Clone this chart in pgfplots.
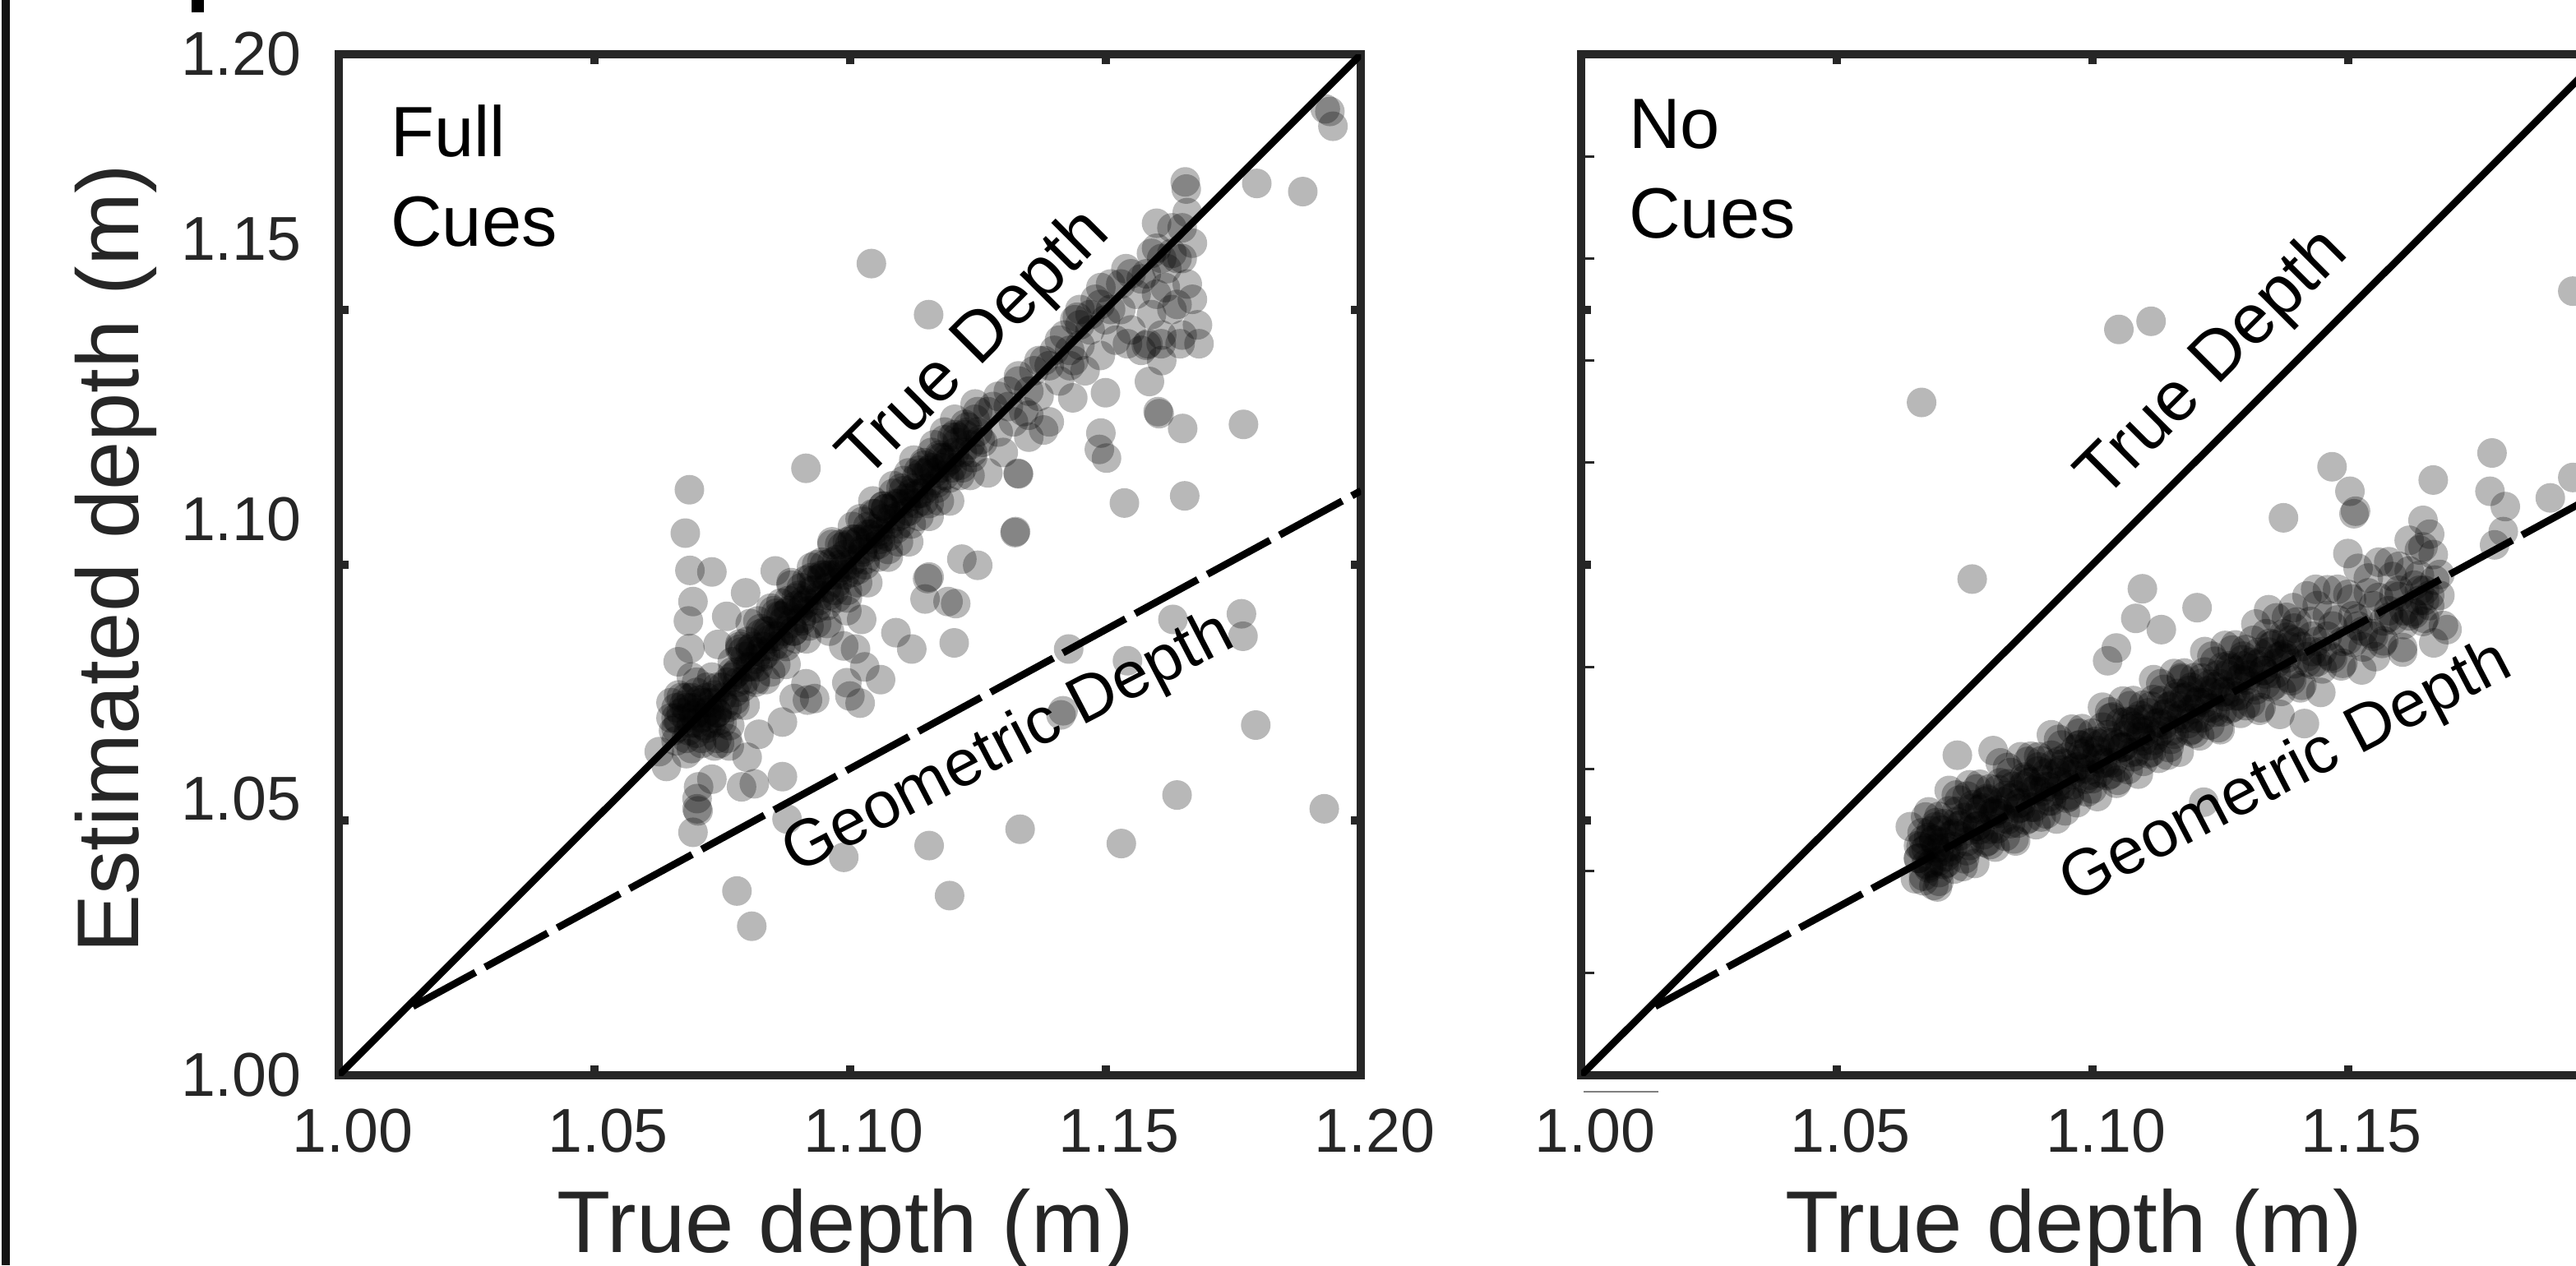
\documentclass[border=0pt]{standalone}
\usepackage{pgfplots}
\pgfplotsset{compat=1.18}
\usepackage{fontspec}
\setmainfont{Liberation Sans}
\pgfplotsset{
  scatdots/.style={only marks, mark=*, mark size=2.7pt, draw opacity=0, mark options={fill=black, draw opacity=0, fill opacity=0.28}},
  panelstyle/.style={
    scale only axis, width=186.5pt, height=186.3pt,
    xmin=1, xmax=1.2, ymin=1, ymax=1.2,
    axis line style={line width=1.5pt, black!85},
    tick align=inside, xtick pos=both, ytick pos=both,
    major tick length=1.8pt,
    tick style={line width=1.5pt, black!85},
    xtick={1,1.05,1.1,1.15,1.2},
    ytick={1.05,1.1,1.15}, yticklabels={},
    x tick label style={font=\fontsize{11.3}{13}\selectfont, text=black!85, inner sep=0pt, anchor=north, yshift=-6pt, xshift=2.5pt},
    y tick label style={font=\fontsize{11.3}{13}\selectfont, text=black!85, inner sep=0pt, anchor=east, xshift=-6.6pt},
    label style={font=\fontsize{16}{19}\selectfont, text=black!85},
  }
}
\begin{document}
\begin{tikzpicture}
\useasboundingbox (0pt,0pt) rectangle (469.95pt,230.85pt);
\fill[black!92] (0.3pt,0pt) rectangle (1.8pt,230.85pt);
\fill[black] (34.95pt,228.6pt) rectangle (37.2pt,230.85pt);
\draw[gray, line width=0.35pt] (288.9pt,31.65pt) -- (302.55pt,31.65pt);

% ---------------- Left panel: Full Cues ----------------
\begin{axis}[panelstyle, at={(61.8pt,34.65pt)}, anchor=south west,
  xticklabels={1.00,1.05,1.10,1.15,1.20},
  extra y ticks={1,1.0541,1.109,1.1638,1.2},
  extra y tick labels={1.00,1.05,1.10,1.15,1.20},
  extra y tick style={major tick length=0pt},
  ylabel={Estimated depth (m)},
  ylabel style={at={(axis description cs:-0.218,0.506)}, anchor=center},
  xlabel={True depth (m)},
  xlabel style={at={(axis description cs:0.4956,0)}, anchor=base, yshift=-32.25pt}]
% dense blob
\addplot[scatdots] coordinates {
(1.066,1.068) (1.067,1.071) (1.068,1.066) (1.068,1.074) (1.069,1.069) (1.069,1.072)
(1.070,1.067) (1.070,1.075) (1.071,1.070) (1.071,1.073) (1.072,1.068) (1.072,1.071)
(1.072,1.076) (1.073,1.069) (1.073,1.073) (1.074,1.066) (1.074,1.071) (1.075,1.074)
(1.075,1.069) (1.076,1.077) (1.070,1.071) (1.071,1.065) (1.068,1.070) (1.067,1.074)
(1.073,1.078) (1.069,1.064) (1.076,1.072) (1.074,1.076) (1.066,1.072) (1.072,1.074)
(1.0665,1.0695) (1.0675,1.0725) (1.0685,1.0675) (1.0695,1.0705) (1.0705,1.0735) (1.0715,1.0685)
(1.0725,1.0715) (1.0735,1.0745) (1.0745,1.0695) (1.0755,1.0725) (1.0680,1.0720) (1.0700,1.0690)
(1.0720,1.0730) (1.0740,1.0710) (1.0690,1.0740) (1.0710,1.0660) (1.0730,1.0700) (1.0660,1.0700)
(1.0750,1.0760) (1.0700,1.0770)
(1.065,1.070) (1.066,1.0655) (1.0665,1.0745) (1.0775,1.0735) (1.0765,1.0685) (1.0655,1.0675)
(1.0690,1.0780) (1.0745,1.0650) (1.0770,1.0780) (1.0680,1.0630) (1.0650,1.0730) (1.0760,1.0660)
};
% band along true depth
\addplot[scatdots] coordinates {
(1.077,1.081) (1.0775,1.075) (1.078,1.079) (1.0785,1.084) (1.079,1.076) (1.0795,1.082)
(1.080,1.085) (1.0805,1.080) (1.081,1.083) (1.0815,1.077) (1.082,1.089) (1.0825,1.083)
(1.083,1.082) (1.0835,1.087) (1.084,1.087) (1.0845,1.079) (1.085,1.091) (1.0855,1.086)
(1.086,1.086) (1.0865,1.090) (1.087,1.089) (1.0875,1.084) (1.088,1.093) (1.0885,1.096)
(1.089,1.087) (1.0895,1.092) (1.090,1.094) (1.0905,1.089) (1.091,1.092) (1.0915,1.097)
(1.092,1.088) (1.0925,1.095) (1.093,1.095) (1.0935,1.100) (1.094,1.093) (1.0945,1.098)
(1.095,1.100) (1.0955,1.092) (1.096,1.098) (1.0965,1.104) (1.097,1.095) (1.0975,1.101)
(1.098,1.104) (1.0985,1.099) (1.099,1.102) (1.0995,1.095) (1.100,1.100) (1.1005,1.105)
(1.101,1.105) (1.1015,1.099) (1.102,1.109) (1.1025,1.103) (1.103,1.100) (1.1035,1.106)
(1.104,1.106) (1.1045,1.110) (1.105,1.110) (1.1055,1.104) (1.106,1.106) (1.1065,1.109)
(1.107,1.111) (1.1075,1.103) (1.108,1.109) (1.1085,1.114) (1.109,1.107) (1.1095,1.112)
(1.110,1.115) (1.1105,1.110) (1.111,1.113) (1.1115,1.118) (1.112,1.108) (1.1125,1.115)
(1.113,1.117) (1.1135,1.114) (1.114,1.114) (1.1145,1.120) (1.115,1.118) (1.1155,1.112)
(1.116,1.122) (1.1165,1.118) (1.117,1.116) (1.1175,1.121) (1.118,1.121) (1.1185,1.126)
(1.119,1.120) (1.1195,1.117) (1.120,1.125) (1.1205,1.122)
(1.121,1.124) (1.122,1.119) (1.123,1.127) (1.124,1.121) (1.125,1.130) (1.126,1.124)
(1.127,1.118) (1.128,1.131) (1.129,1.126) (1.130,1.122) (1.131,1.134) (1.132,1.128)
(1.133,1.136) (1.134,1.130) (1.135,1.125) (1.136,1.138) (1.137,1.133) (1.138,1.140)
(1.139,1.128) (1.140,1.142) (1.141,1.136) (1.142,1.145) (1.143,1.139) (1.144,1.148)
(1.145,1.143) (1.145,1.150) (1.146,1.138) (1.147,1.146) (1.148,1.152) (1.149,1.141)
(1.150,1.148) (1.151,1.155) (1.152,1.144) (1.153,1.150) (1.154,1.158) (1.155,1.146)
(1.156,1.153) (1.157,1.142) (1.158,1.157) (1.159,1.149) (1.160,1.162) (1.160,1.153)
(1.161,1.145) (1.162,1.158) (1.163,1.166) (1.164,1.151) (1.165,1.160) (1.166,1.169)
(1.166,1.155) (1.167,1.163) (1.168,1.147) (1.161,1.140) (1.163,1.150) (1.167,1.152)
(1.165,1.145) (1.158,1.143)
};
% band core and edges
\addplot[scatdots] coordinates {
(1.077,1.079) (1.078,1.077) (1.079,1.083) (1.080,1.080) (1.081,1.084) (1.082,1.080) (1.083,1.084)
(1.084,1.086) (1.085,1.084) (1.086,1.090) (1.087,1.087) (1.088,1.091) (1.089,1.087) (1.090,1.091)
(1.091,1.093) (1.092,1.091) (1.093,1.097) (1.094,1.094) (1.095,1.098) (1.096,1.094) (1.097,1.098)
(1.098,1.100) (1.099,1.098) (1.100,1.104) (1.101,1.101) (1.102,1.105) (1.103,1.101) (1.104,1.105)
(1.105,1.107) (1.106,1.105) (1.107,1.111) (1.108,1.108) (1.109,1.112) (1.110,1.108) (1.111,1.112)
(1.112,1.114) (1.113,1.112) (1.114,1.118) (1.115,1.115) (1.116,1.119) (1.117,1.115) (1.118,1.119)
(1.119,1.121) (1.120,1.119) (1.121,1.125) (1.122,1.122) (1.123,1.126) (1.124,1.122) (1.125,1.126)
(1.0775,1.0785) (1.0785,1.0835) (1.0795,1.0775) (1.0805,1.0835) (1.0815,1.0815) (1.0825,1.0865) (1.0835,1.0825)
(1.0845,1.0855) (1.0855,1.0905) (1.0865,1.0845) (1.0875,1.0905) (1.0885,1.0885) (1.0895,1.0935) (1.0905,1.0895)
(1.0915,1.0925) (1.0925,1.0975) (1.0935,1.0915) (1.0945,1.0975) (1.0955,1.0955) (1.0965,1.1005) (1.0975,1.0965)
(1.0985,1.0995) (1.0995,1.1045) (1.1005,1.0985) (1.1015,1.1045) (1.1025,1.1025) (1.1035,1.1075) (1.1045,1.1035)
(1.1055,1.1065) (1.1065,1.1115) (1.1075,1.1055) (1.1085,1.1115) (1.1095,1.1095) (1.1105,1.1145) (1.1115,1.1105)
(1.1125,1.1135) (1.1135,1.1185) (1.1145,1.1125) (1.1155,1.1185) (1.1165,1.1165) (1.1175,1.1215) (1.1185,1.1175)
(1.1195,1.1205) (1.1205,1.1255) (1.1215,1.1195) (1.1225,1.1255) (1.1235,1.1235) (1.1245,1.1285) (1.1255,1.1245)
(1.127,1.130) (1.129,1.133) (1.131,1.131) (1.133,1.137) (1.135,1.134) (1.137,1.140) (1.139,1.139)
(1.141,1.144) (1.143,1.142) (1.145,1.147) (1.147,1.149) (1.149,1.151) (1.151,1.150) (1.153,1.155)
(1.155,1.157) (1.157,1.156) (1.159,1.161) (1.161,1.160) (1.163,1.161) (1.165,1.166) (1.1445,1.1485)
(1.1491,1.1543) (1.1438,1.140) (1.164,1.160) (1.1617,1.1543)
(1.0775,1.0725) (1.0795,1.0725) (1.0815,1.0775) (1.0835,1.0775) (1.0855,1.0805) (1.0875,1.0805)
(1.0895,1.0855) (1.0915,1.0855) (1.0935,1.0885) (1.0955,1.0885) (1.0975,1.0935) (1.0995,1.0935)
(1.1015,1.0965) (1.1035,1.0965) (1.1055,1.1015) (1.1075,1.1015) (1.1095,1.1045) (1.1115,1.1045)
(1.1135,1.1095) (1.1155,1.1095) (1.1175,1.1125) (1.1195,1.1125) (1.1215,1.1175) (1.1235,1.1175)
(1.0785,1.0845) (1.0805,1.0885) (1.0825,1.0875) (1.0845,1.0915) (1.0865,1.0925) (1.0885,1.0965)
(1.0905,1.0955) (1.0925,1.0995) (1.0945,1.1005) (1.0965,1.1045) (1.0985,1.1035) (1.1005,1.1075)
(1.1025,1.1085) (1.1045,1.1125) (1.1065,1.1115) (1.1085,1.1155) (1.1105,1.1165) (1.1125,1.1205)
(1.1145,1.1195) (1.1165,1.1235) (1.1185,1.1245) (1.1205,1.1285) (1.1225,1.1275) (1.1245,1.1315)
};
% scattered points
\addplot[scatdots] coordinates {
(1.1042,1.1590) (1.1154,1.1490) (1.0914,1.1189) (1.0686,1.1147) (1.0678,1.1062) (1.1329,1.1179) (1.1323,1.1063)
(1.1939,1.1888) (1.1930,1.1893) (1.1945,1.1859) (1.1796,1.1747) (1.1886,1.1731) (1.1656,1.1750) (1.1658,1.1736) (1.1600,1.1669)
(1.1609,1.1433) (1.1683,1.1433) (1.1646,1.1433) (1.1583,1.1433) (1.1543,1.1433)
(1.1586,1.1359) (1.1603,1.1300) (1.1605,1.1296) (1.1651,1.1267) (1.1770,1.1275) (1.1491,1.1258) (1.1488,1.1226) (1.1502,1.1209)
(1.1500,1.1337) (1.1436,1.1327) (1.1379,1.1264) (1.1330,1.1178) (1.1537,1.1121) (1.1655,1.1135) (1.1324,1.1065) (1.1350,1.1293)
(1.0687,1.0989) (1.0730,1.0986) (1.0693,1.0928) (1.0684,1.0890) (1.0759,1.0899) (1.0796,1.0945) (1.0854,1.0988) (1.0687,1.0836) (1.0664,1.0810) (1.0742,1.0844)
(1.1219,1.1011) (1.1250,1.0999) (1.1155,1.0976) (1.1192,1.0928) (1.1207,1.0924) (1.1147,1.0933) (1.1090,1.0867) (1.1121,1.0835) (1.1204,1.0847) (1.1428,1.0835) (1.1417,1.0714)
(1.1011,1.0835) (1.1029,1.0800) (1.0994,1.0769) (1.1060,1.0775) (1.1020,1.0729) (1.1000,1.0743) (1.0917,1.0735) (1.0868,1.0692) (1.0799,1.0623) (1.0813,1.0571) (1.0788,1.0565) (1.0868,1.0585)
(1.0704,1.0565) (1.0730,1.0580) (1.0701,1.0542) (1.0701,1.0522) (1.0703,1.0518) (1.0693,1.0476) (1.0877,1.0502) (1.0988,1.0427) (1.1155,1.0450) (1.1333,1.0482) (1.1195,1.0352) (1.0779,1.0361) (1.0808,1.0292)
(1.0641,1.0605) (1.0627,1.0634) (1.0764,1.0645) (1.0735,1.0645) (1.0822,1.0668)
(1.1632,1.0893) (1.1766,1.0904) (1.1769,1.0860) (1.1543,1.0812) (1.1413,1.0706) (1.1794,1.0686) (1.1640,1.0549) (1.1928,1.0522) (1.1531,1.0454) (1.1152,1.0973)
(1.0914,1.0767) (1.0891,1.0738) (1.0960,1.0870) (1.0988,1.0841) (1.0994,1.0910) (1.1023,1.0893) (1.0931,1.0738)
};
\addplot[black, line width=1.3pt] coordinates {(1,1) (1.2,1.2)};
\addplot[black, line width=1.3pt, dash pattern=on 13pt off 2pt] coordinates {(1.0145,1.0135) (1.2,1.1145)};
\node[rotate=45, anchor=base, inner sep=0pt, font=\fontsize{12.8}{15}\selectfont] at (axis cs:1.1271,1.1404) {True Depth};
\node[rotate=27.5, anchor=base, inner sep=0pt, font=\fontsize{12}{14}\selectfont] at (axis cs:1.1327,1.0618) {Geometric Depth};
\node[anchor=north west, inner sep=0pt, align=left, font=\fontsize{13}{16.35}\selectfont, xshift=9.3pt, yshift=-9pt] at (rel axis cs:0,1) {Full\\Cues};
\end{axis}

% ---------------- Right panel: No Cues ----------------
\begin{axis}[panelstyle, at={(288.45pt,34.65pt)}, anchor=south west,
  xticklabels={1.00,1.05,1.10,1.15,{}},
  xlabel={True depth (m)},
  xlabel style={at={(axis description cs:0.482,0)}, anchor=base, yshift=-32.25pt}]
\addplot[scatdots] coordinates {
(1.066,1.0425) (1.0667,1.0475) (1.0654,1.0385)
(1.068,1.0466) (1.0687,1.0416) (1.0674,1.0506)
(1.070,1.0397) (1.0707,1.0457) (1.0694,1.0487)
(1.072,1.0518) (1.0727,1.0448) (1.0714,1.0428)
(1.074,1.0489) (1.0747,1.0409) (1.0734,1.0549)
(1.076,1.0480) (1.0767,1.0530) (1.0754,1.0440)
(1.078,1.0521) (1.0787,1.0471) (1.0774,1.0561)
(1.080,1.0452) (1.0807,1.0512) (1.0794,1.0542)
(1.082,1.0573) (1.0827,1.0503) (1.0814,1.0483)
(1.084,1.0543) (1.0847,1.0463) (1.0834,1.0603)
(1.086,1.0534) (1.0867,1.0584) (1.0854,1.0494)
(1.088,1.0575) (1.0887,1.0525) (1.0874,1.0615)
(1.090,1.0506) (1.0907,1.0566) (1.0894,1.0596)
(1.092,1.0627) (1.0927,1.0557) (1.0914,1.0537)
(1.094,1.0598) (1.0947,1.0518) (1.0934,1.0658)
(1.096,1.0589) (1.0967,1.0639) (1.0954,1.0549)
(1.098,1.0630) (1.0987,1.0580) (1.0974,1.0670)
(1.100,1.0561) (1.1007,1.0621) (1.0994,1.0651)
(1.102,1.0682) (1.1027,1.0612) (1.1014,1.0592)
(1.104,1.0652) (1.1047,1.0572) (1.1034,1.0712)
(1.106,1.0643) (1.1067,1.0693) (1.1054,1.0603)
(1.108,1.0684) (1.1087,1.0634) (1.1074,1.0724)
(1.110,1.0615) (1.1107,1.0675) (1.1094,1.0705)
(1.112,1.0736) (1.1127,1.0666) (1.1114,1.0646)
(1.114,1.0707) (1.1147,1.0627) (1.1134,1.0767)
(1.116,1.0698) (1.1167,1.0748) (1.1154,1.0658)
(1.118,1.0739) (1.1187,1.0689) (1.1174,1.0779)
(1.120,1.0670) (1.1207,1.0730) (1.1194,1.0760)
(1.122,1.0790) (1.1227,1.0720) (1.1214,1.0700)
(1.124,1.0761) (1.1247,1.0681) (1.1234,1.0821)
(1.126,1.0752) (1.1267,1.0802) (1.1254,1.0712)
(1.128,1.0793) (1.1287,1.0743) (1.1274,1.0833)
(1.130,1.0724) (1.1307,1.0784) (1.1294,1.0814)
(1.132,1.0805) (1.1327,1.0715) (1.134,1.0766) (1.1347,1.0846)
(1.136,1.0807) (1.1367,1.0707) (1.138,1.0858) (1.1387,1.0778)
(1.140,1.0849) (1.1407,1.0759) (1.142,1.0809) (1.1427,1.0889)
(1.144,1.0850) (1.1447,1.0750) (1.146,1.0901) (1.1467,1.0821)
(1.148,1.0892) (1.1487,1.0802) (1.150,1.0853) (1.1507,1.0933)
(1.152,1.0894) (1.1527,1.0794) (1.154,1.0945) (1.1547,1.0865)
(1.156,1.0936) (1.1567,1.0846) (1.158,1.0897) (1.1587,1.0977)
(1.160,1.0938) (1.1607,1.0838) (1.162,1.0988) (1.1627,1.0908)
(1.164,1.0979) (1.1647,1.0889) (1.166,1.0940) (1.1667,1.1020)
(1.168,1.0981) (1.1687,1.0881)
(1.143,1.083) (1.144,1.081) (1.165,1.095) (1.164,1.093) (1.166,1.092) (1.160,1.095) (1.162,1.090)
(1.067,1.044) (1.068,1.041) (1.069,1.046) (1.067,1.039) (1.070,1.042) (1.066,1.045)
};
% band core
\addplot[scatdots] coordinates {
(1.066,1.0425) (1.067,1.0461) (1.068,1.0406) (1.069,1.0462) (1.070,1.0437) (1.071,1.0493) (1.072,1.0438) (1.073,1.0474)
(1.074,1.0469) (1.075,1.0505) (1.076,1.0450) (1.077,1.0505) (1.078,1.0481) (1.079,1.0536) (1.080,1.0482) (1.081,1.0517)
(1.082,1.0513) (1.083,1.0548) (1.084,1.0493) (1.085,1.0549) (1.086,1.0524) (1.087,1.0580) (1.088,1.0525) (1.089,1.0561)
(1.090,1.0556) (1.091,1.0592) (1.092,1.0537) (1.093,1.0592) (1.094,1.0568) (1.095,1.0623) (1.096,1.0569) (1.097,1.0604)
(1.098,1.0600) (1.099,1.0635) (1.100,1.0581) (1.101,1.0636) (1.102,1.0611) (1.103,1.0667) (1.104,1.0612) (1.105,1.0648)
(1.106,1.0643) (1.107,1.0679) (1.108,1.0624) (1.109,1.0680) (1.110,1.0655) (1.111,1.0710) (1.112,1.0656) (1.113,1.0691)
(1.114,1.0687) (1.115,1.0722) (1.116,1.0668) (1.117,1.0723) (1.118,1.0699) (1.119,1.0754) (1.120,1.0699) (1.121,1.0735)
(1.122,1.0730) (1.123,1.0766) (1.124,1.0711) (1.125,1.0767) (1.126,1.0742) (1.127,1.0798) (1.128,1.0743) (1.129,1.0778)
(1.130,1.0774) (1.131,1.0809) (1.132,1.0755) (1.133,1.0810) (1.134,1.0786) (1.135,1.0841) (1.136,1.0787) (1.137,1.0822)
(1.138,1.0817) (1.139,1.0853)
(1.0665,1.0448) (1.0675,1.0414) (1.0685,1.0479) (1.0695,1.0445) (1.0705,1.0480) (1.0715,1.0416) (1.0725,1.0471) (1.0735,1.0517)
(1.0745,1.0492) (1.0755,1.0458) (1.0765,1.0523) (1.0775,1.0488) (1.0785,1.0524) (1.0795,1.0459) (1.0805,1.0515) (1.0815,1.0560)
(1.0825,1.0536) (1.0835,1.0501) (1.0845,1.0566) (1.0855,1.0532) (1.0865,1.0567) (1.0875,1.0503) (1.0885,1.0558) (1.0895,1.0604)
(1.0905,1.0579) (1.0915,1.0545) (1.0925,1.0610) (1.0935,1.0575) (1.0945,1.0611) (1.0955,1.0546) (1.0965,1.0602) (1.0975,1.0647)
(1.0985,1.0623) (1.0995,1.0588) (1.1005,1.0654) (1.1015,1.0619) (1.1025,1.0654) (1.1035,1.0590) (1.1045,1.0645) (1.1055,1.0691)
(1.1065,1.0666) (1.1075,1.0632) (1.1085,1.0697) (1.1095,1.0663) (1.1105,1.0698) (1.1115,1.0633) (1.1125,1.0689) (1.1135,1.0734)
(1.1145,1.0710) (1.1155,1.0675) (1.1165,1.0741) (1.1175,1.0706) (1.1185,1.0742) (1.1195,1.0677) (1.1205,1.0732) (1.1215,1.0778)
(1.1225,1.0753) (1.1235,1.0719) (1.1245,1.0784) (1.1255,1.0750) (1.1265,1.0785) (1.1275,1.0721) (1.1285,1.0776) (1.1295,1.0821)
(1.1305,1.0797) (1.1315,1.0762) (1.1325,1.0828) (1.1335,1.0793) (1.1345,1.0829) (1.1355,1.0764) (1.1365,1.0820) (1.1375,1.0865)
(1.1385,1.0840) (1.1395,1.0806)
(1.141,1.084) (1.143,1.086) (1.145,1.083) (1.147,1.088) (1.149,1.085) (1.151,1.090) (1.153,1.087) (1.155,1.092)
(1.157,1.089) (1.159,1.094) (1.161,1.091) (1.163,1.096) (1.165,1.093) (1.167,1.097) (1.146,1.086) (1.152,1.088)
(1.158,1.091) (1.164,1.095) (1.168,1.094) (1.142,1.082)
};
% band edges and middle
\addplot[scatdots] coordinates {
(1.067,1.0381) (1.069,1.0372) (1.071,1.0413) (1.073,1.0404) (1.075,1.0424) (1.077,1.0415) (1.079,1.0456) (1.081,1.0447)
(1.083,1.0468) (1.085,1.0459) (1.087,1.0500) (1.089,1.0491) (1.091,1.0512) (1.093,1.0502) (1.095,1.0543) (1.097,1.0534)
(1.099,1.0555) (1.101,1.0546) (1.103,1.0587) (1.105,1.0578) (1.107,1.0599) (1.109,1.0590) (1.111,1.0630) (1.113,1.0621)
(1.115,1.0642) (1.117,1.0633) (1.119,1.0674) (1.121,1.0665) (1.123,1.0686) (1.125,1.0677) (1.127,1.0718) (1.129,1.0709)
(1.131,1.0729) (1.133,1.0720) (1.135,1.0761) (1.137,1.0752) (1.139,1.0773) (1.141,1.0764) (1.143,1.0805) (1.145,1.0796)
(1.147,1.0817) (1.149,1.0807) (1.151,1.0848) (1.153,1.0839) (1.155,1.0860) (1.157,1.0851) (1.159,1.0892) (1.161,1.0883)
(1.163,1.0904) (1.165,1.0895)
(1.068,1.0516) (1.070,1.0507) (1.072,1.0558) (1.074,1.0539) (1.076,1.0569) (1.078,1.0570) (1.080,1.0561) (1.082,1.0612)
(1.084,1.0593) (1.086,1.0624) (1.088,1.0625) (1.090,1.0616) (1.092,1.0667) (1.094,1.0647) (1.096,1.0678) (1.098,1.0679)
(1.100,1.0670) (1.102,1.0721) (1.104,1.0702) (1.106,1.0733) (1.108,1.0734) (1.110,1.0725) (1.112,1.0775) (1.114,1.0756)
(1.116,1.0787) (1.118,1.0788) (1.120,1.0779) (1.122,1.0830) (1.124,1.0811) (1.126,1.0842) (1.128,1.0843) (1.130,1.0834)
(1.132,1.0884) (1.134,1.0865) (1.136,1.0896) (1.138,1.0897) (1.140,1.0888) (1.142,1.0939) (1.144,1.0920) (1.146,1.0951)
(1.148,1.0952) (1.150,1.0942) (1.152,1.0993) (1.154,1.0974) (1.156,1.1005) (1.158,1.1006) (1.160,1.0997) (1.162,1.1048)
(1.164,1.1029) (1.166,1.1060)
(1.0675,1.0444) (1.0695,1.0495) (1.0715,1.0446) (1.0735,1.0497) (1.0755,1.0547) (1.0775,1.0488) (1.0795,1.0539)
(1.0815,1.0520) (1.0835,1.0571) (1.0855,1.0522) (1.0875,1.0573) (1.0895,1.0624) (1.0915,1.0565) (1.0935,1.0615)
(1.0955,1.0596) (1.0975,1.0647) (1.0995,1.0598) (1.1015,1.0649) (1.1035,1.0700) (1.1055,1.0641) (1.1075,1.0692)
(1.1095,1.0673) (1.1115,1.0723) (1.1135,1.0674) (1.1155,1.0725) (1.1175,1.0776) (1.1195,1.0717) (1.1215,1.0768)
(1.1235,1.0749) (1.1255,1.0800) (1.1275,1.0751) (1.1295,1.0802) (1.1315,1.0852) (1.1335,1.0793) (1.1355,1.0844)
(1.1375,1.0825) (1.1395,1.0876)
};
\addplot[scatdots] coordinates {
(1.0666,1.1318) (1.1052,1.1461) (1.1115,1.1477) (1.0765,1.0972) (1.1940,1.1536) (1.1374,1.1092)
(1.1469,1.1192) (1.1504,1.1144) (1.1515,1.1105) (1.1512,1.1100) (1.1500,1.1022) (1.1782,1.1219)
(1.1667,1.1166) (1.1778,1.1144) (1.1808,1.1114) (1.1647,1.1087) (1.1804,1.1065) (1.1787,1.1039)
(1.1896,1.1131) (1.1940,1.1171) (1.1647,1.1035) (1.1098,1.0953) (1.1085,1.0895) (1.1135,1.0873)
(1.1205,1.0916) (1.1047,1.0837) (1.1030,1.0812) (1.1345,1.0912) (1.1393,1.0916) (1.1437,1.0952)
(1.1415,1.0689) (1.1218,1.0535) (1.0736,1.0627) (1.0806,1.0636) (1.0644,1.0487) (1.0697,1.0369)
(1.0700,1.0380) (1.1668,1.0847) (1.1607,1.0829) (1.1554,1.0820) (1.1694,1.0873)
};
\addplot[black, line width=1.3pt] coordinates {(1,1) (1.2,1.2)};
\addplot[black, line width=1.3pt, dash pattern=on 13pt off 2pt] coordinates {(1.0145,1.0135) (1.2,1.1145)};
\draw[line width=0.4pt, black!85] (axis cs:1,1.02) -- ++(2.4pt,0pt);
\draw[line width=0.4pt, black!85] (axis cs:1,1.04) -- ++(2.4pt,0pt);
\draw[line width=0.4pt, black!85] (axis cs:1,1.06) -- ++(2.4pt,0pt);
\draw[line width=0.4pt, black!85] (axis cs:1,1.08) -- ++(2.4pt,0pt);
\draw[line width=0.4pt, black!85] (axis cs:1,1.12) -- ++(2.4pt,0pt);
\draw[line width=0.4pt, black!85] (axis cs:1,1.14) -- ++(2.4pt,0pt);
\draw[line width=0.4pt, black!85] (axis cs:1,1.16) -- ++(2.4pt,0pt);
\draw[line width=0.4pt, black!85] (axis cs:1,1.18) -- ++(2.4pt,0pt);
\node[rotate=45, anchor=base, inner sep=0pt, font=\fontsize{12.8}{15}\selectfont] at (axis cs:1.1263,1.1366) {True Depth};
\node[rotate=27.5, anchor=base, inner sep=0pt, font=\fontsize{12}{14}\selectfont] at (axis cs:1.1396,1.0561) {Geometric Depth};
\node[anchor=north west, inner sep=0pt, align=left, font=\fontsize{13}{16.35}\selectfont, xshift=8.55pt, yshift=-8.1pt] at (rel axis cs:0,1) {No\\Cues};
\end{axis}
\end{tikzpicture}
\end{document}
